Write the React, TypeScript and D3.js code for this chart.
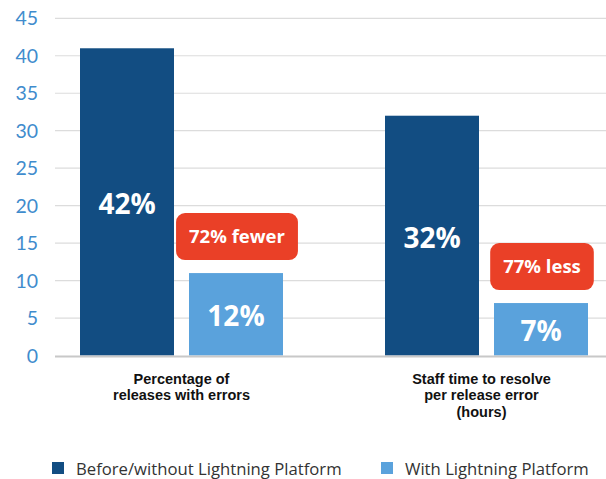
import React, { useEffect, useRef } from "react";
import * as d3 from "d3";

const categories = ["Percentage of|releases with errors", "Staff time to resolve|per release error|(hours)"];
const seriesNames = ["Before/without Lightning Platform", "With Lightning Platform"];
const beforeValues = [41, 32];
const withValues = [11, 7];
const beforeLabels = ["42%", "32%"];
const withLabels = ["12%", "7%"];
const calloutLabels = ["72% fewer", "77% less"];
const yTicks = [0, 5, 10, 15, 20, 25, 30, 35, 40, 45];

const COLORS = ["#124d82", "#5aa2dc"];
const RED = "#ea4027";
const FONT = "'Open Sans', Lato, sans-serif";
const TICKFONT = "Lato, 'Open Sans', sans-serif";
const CATFONT = "'Liberation Sans', Arial, sans-serif";

export default function App() {
  const ref = useRef<SVGSVGElement>(null);
  useEffect(() => {
    const svg = d3.select(ref.current);
    svg.selectAll("*").remove();
    const W = 606;
    const y = d3.scaleLinear().domain([0, 45]).range([355.5, 18.3]);
    const xg = d3.scalePoint<string>().domain(categories).range([181.5, 486.5]);
    const xi = d3.scaleBand<string>().domain(seriesNames).range([-101.5, 101.5]).paddingInner(0.1376);

    svg.append("g").selectAll("line").data(yTicks.filter((t) => t > 0)).join("line")
      .attr("x1", 55).attr("x2", W).attr("y1", (d) => y(d)).attr("y2", (d) => y(d))
      .attr("stroke", "#dcdcdc").attr("stroke-width", 1.2);
    svg.append("g").selectAll("text").data(yTicks).join("text")
      .attr("x", 38).attr("y", (d) => y(d)).attr("dy", "0.36em")
      .attr("text-anchor", "end").attr("font-family", TICKFONT).attr("font-size", 19.5)
      .attr("fill", "#3f8ccd").text((d) => d);

    const data = categories.map((c, i) => ({
      c,
      i,
      vals: [beforeValues[i], withValues[i]],
      labs: [beforeLabels[i], withLabels[i]],
      callout: calloutLabels[i],
    }));

    const groups = svg.append("g").selectAll("g").data(data).join("g")
      .attr("transform", (d) => `translate(${xg(d.c)},0)`);

    groups.each(function (d) {
      const g = d3.select(this);
      seriesNames.forEach((s, si) => {
        const x0 = xi(s)!;
        const bw = xi.bandwidth();
        g.append("rect").attr("x", x0).attr("width", bw)
          .attr("y", y(d.vals[si])).attr("height", y(0) - y(d.vals[si]))
          .attr("fill", COLORS[si]);
        g.append("text").attr("x", x0 + bw / 2).attr("y", (y(d.vals[si]) + y(0)) / 2 + 2)
          .attr("dy", "0.36em").attr("text-anchor", "middle")
          .attr("font-family", FONT).attr("font-weight", 700).attr("font-size", 28)
          .attr("fill", "#fff").text(d.labs[si]);
      });
      const s = seriesNames[1];
      const cx = xi(s)! + xi.bandwidth() / 2 + 1;
      const bottom = y(d.vals[1]) - 13;
      const h = 47;
      const rect = g.append("rect").attr("fill", RED).attr("rx", 9).attr("ry", 9);
      const t = g.append("text").attr("x", cx).attr("y", bottom - h / 2).attr("dy", "0.36em")
        .attr("text-anchor", "middle").attr("font-family", FONT).attr("font-weight", 700)
        .attr("font-size", 18.5).attr("fill", "#fff").text(d.callout);
      const tw = (t.node() as SVGTextElement).getComputedTextLength();
      const w = tw + 26;
      rect.attr("x", cx - w / 2).attr("width", w).attr("y", bottom - h).attr("height", h);
      const lines = d.c.split("|");
      const dx = d.i === 1 ? -5 : 0;
      g.append("g").selectAll("text").data(lines).join("text")
        .attr("text-anchor", "middle").attr("font-family", CATFONT)
        .attr("font-weight", 700).attr("font-size", 14.5).attr("fill", "#111")
        .attr("x", dx).attr("y", (_, i) => 384 + i * 16.3).text((l) => l);
    });

    svg.append("line").attr("x1", 55).attr("x2", W).attr("y1", y(0) + 1).attr("y2", y(0) + 1)
      .attr("stroke", "#c8c8c8").attr("stroke-width", 2);

    const legX = [52, 381];
    const leg = svg.append("g").selectAll("g").data(seriesNames).join("g")
      .attr("transform", (_, i) => `translate(${legX[i]},462)`);
    leg.append("rect").attr("width", 12).attr("height", 12).attr("fill", (_, i) => COLORS[i]);
    leg.append("text").attr("x", 24).attr("y", 12.5).attr("font-family", FONT)
      .attr("font-size", 16.7).attr("fill", "#333").text((d) => d);
  }, []);
  return (
    <svg ref={ref} width={606} height={479} style={{ position: "absolute", left: 0, top: 0, background: "#fff" }} />
  );
}
